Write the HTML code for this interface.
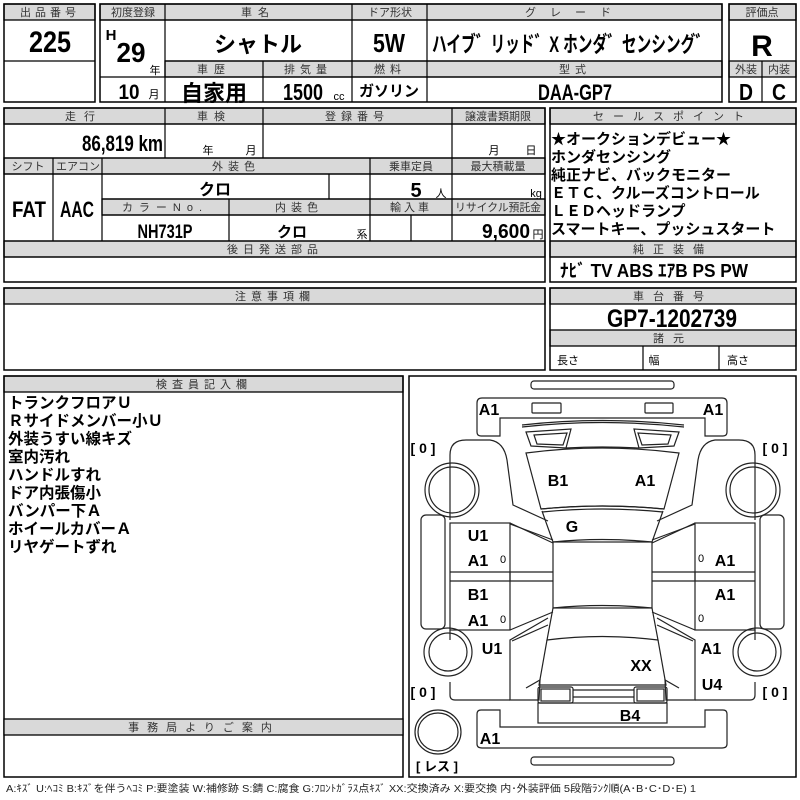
<!DOCTYPE html>
<html><head><meta charset="utf-8"><style>
html,body{margin:0;padding:0;background:#fff;}
svg{display:block;}
.h{fill:#d9d9d9;stroke:#000;stroke-width:1.3}
.b{fill:none;stroke:#000;stroke-width:1.5}
.l{stroke:#000;stroke-width:1.2}
.ht{font-family:"Liberation Sans","Noto Sans CJK JP",sans-serif;font-size:11px;fill:#333;text-anchor:middle}
.v{font-family:"Liberation Sans","Noto Sans CJK JP",sans-serif;font-weight:bold;fill:#000;text-anchor:middle}
.j{font-family:"Liberation Sans","Noto Sans CJK JP",sans-serif;font-weight:bold;fill:#000}
.s{font-family:"Liberation Sans","Noto Sans CJK JP",sans-serif;font-size:11px;fill:#000;text-anchor:middle}
.c{fill:none;stroke:#222;stroke-width:1.2}
.d{font-family:"Liberation Sans","Noto Sans CJK JP",sans-serif;font-weight:bold;fill:#000;text-anchor:middle}
</style></head><body>
<svg width="800" height="800" viewBox="0 0 800 800" xmlns="http://www.w3.org/2000/svg">
<rect class="h" x="4" y="4" width="91" height="16"/>
<text class="ht" x="50" y="16" style="letter-spacing:4px">出品番号</text>
<rect class="b" x="4" y="4" width="91" height="98"/>
<line class="l" x1="4" y1="61" x2="95" y2="61"/>
<text class="v" x="50" y="52" font-size="30" textLength="42" lengthAdjust="spacingAndGlyphs">225</text>

<rect class="h" x="100" y="4" width="622" height="16"/>
<rect class="h" x="165" y="61" width="557" height="16"/>
<rect class="b" x="100" y="4" width="622" height="98"/>
<line class="l" x1="100" y1="20" x2="722" y2="20"/>
<line class="l" x1="165" y1="4" x2="165" y2="102"/>
<line class="l" x1="352" y1="4" x2="352" y2="102"/>
<line class="l" x1="427" y1="4" x2="427" y2="102"/>
<line class="l" x1="263" y1="61" x2="263" y2="102"/>
<line class="l" x1="100" y1="77" x2="722" y2="77"/>
<line class="l" x1="165" y1="61" x2="722" y2="61"/>
<text class="ht" x="133" y="16">初度登録</text>
<text class="ht" x="258" y="16" style="letter-spacing:6px">車名</text>
<text class="ht" x="390" y="16">ドア形状</text>
<text class="ht" x="575" y="16" style="letter-spacing:14px">グレード</text>
<text class="ht" x="214" y="73" style="letter-spacing:6px">車歴</text>
<text class="ht" x="308" y="73" style="letter-spacing:5px">排気量</text>
<text class="ht" x="390" y="73" style="letter-spacing:5px">燃料</text>
<text class="ht" x="575" y="73" style="letter-spacing:5px">型式</text>
<text class="v" x="111" y="40" font-size="15">H</text>
<text class="v" x="131" y="62" font-size="28" textLength="29" lengthAdjust="spacingAndGlyphs">29</text>
<text class="s" x="155" y="74">年</text>
<text class="v" x="129" y="99" font-size="21" textLength="21" lengthAdjust="spacingAndGlyphs">10</text>
<text class="s" x="154" y="98">月</text>
<text class="j" x="258" y="52" font-size="22" text-anchor="middle">シャトル</text>
<text class="v" x="389" y="52" font-size="26" textLength="32" lengthAdjust="spacingAndGlyphs">5W</text>
<text class="j" x="571" y="52" font-size="22" text-anchor="middle" textLength="278" lengthAdjust="spacingAndGlyphs">ハイブ゛リッド゛X ホンダ゛センシング゛</text>
<text class="j" x="214" y="101" font-size="22" text-anchor="middle">自家用</text>
<text class="v" x="303" y="100" font-size="23" textLength="40" lengthAdjust="spacingAndGlyphs">1500</text>
<text class="s" x="339" y="100">cc</text>
<text class="j" x="389" y="96" font-size="15" text-anchor="middle">ガソリン</text>
<text class="v" x="575" y="100" font-size="22" textLength="74" lengthAdjust="spacingAndGlyphs">DAA-GP7</text>

<rect class="h" x="729" y="4" width="67" height="16"/>
<rect class="h" x="729" y="61" width="67" height="16"/>
<rect class="b" x="729" y="4" width="67" height="98"/>
<line class="l" x1="729" y1="20" x2="796" y2="20"/>
<line class="l" x1="762" y1="61" x2="762" y2="102"/>
<text class="ht" x="762" y="16">評価点</text>
<text class="ht" x="746" y="73">外装</text>
<text class="ht" x="779" y="73">内装</text>
<text class="v" x="762" y="56" font-size="30">R</text>
<text class="v" x="746" y="100" font-size="23" textLength="14" lengthAdjust="spacingAndGlyphs">D</text>
<text class="v" x="779" y="100" font-size="23" textLength="14" lengthAdjust="spacingAndGlyphs">C</text>

<rect class="h" x="4" y="108" width="541" height="16"/>
<rect class="h" x="4" y="158" width="541" height="16"/>
<rect class="h" x="102" y="199" width="443" height="16"/>
<rect class="h" x="4" y="241" width="541" height="16"/>
<rect class="b" x="4" y="108" width="541" height="174"/>
<line class="l" x1="4" y1="124" x2="545" y2="124"/>
<line class="l" x1="165" y1="108" x2="165" y2="158"/>
<line class="l" x1="263" y1="108" x2="263" y2="158"/>
<line class="l" x1="452" y1="108" x2="452" y2="158"/>
<line class="l" x1="4" y1="158" x2="545" y2="158"/>
<line class="l" x1="4" y1="174" x2="545" y2="174"/>
<line class="l" x1="53" y1="158" x2="53" y2="241"/>
<line class="l" x1="102" y1="158" x2="102" y2="241"/>
<line class="l" x1="370" y1="158" x2="370" y2="241"/>
<line class="l" x1="452" y1="158" x2="452" y2="241"/>
<line class="l" x1="329" y1="174" x2="329" y2="199"/>
<line class="l" x1="102" y1="199" x2="545" y2="199"/>
<line class="l" x1="102" y1="215" x2="545" y2="215"/>
<line class="l" x1="229" y1="199" x2="229" y2="241"/>
<line class="l" x1="411" y1="215" x2="411" y2="241"/>
<line class="l" x1="4" y1="241" x2="545" y2="241"/>
<line class="l" x1="4" y1="257" x2="545" y2="257"/>
<text class="ht" x="84" y="120" style="letter-spacing:8px">走行</text>
<text class="ht" x="214" y="120" style="letter-spacing:6px">車検</text>
<text class="ht" x="357" y="120" style="letter-spacing:5px">登録番号</text>
<text class="ht" x="498" y="120">譲渡書類期限</text>
<text class="ht" x="28" y="170">シフト</text>
<text class="ht" x="78" y="170">エアコン</text>
<text class="ht" x="236" y="170" style="letter-spacing:5px">外装色</text>
<text class="ht" x="411" y="170">乗車定員</text>
<text class="ht" x="498" y="170">最大積載量</text>
<text class="ht" x="165" y="211" style="letter-spacing:6px">カラーNo.</text>
<text class="ht" x="299" y="211" style="letter-spacing:5px">内装色</text>
<text class="ht" x="411" y="211" style="letter-spacing:3px">輸入車</text>
<text class="ht" x="498" y="211" textLength="86" lengthAdjust="spacingAndGlyphs">リサイクル預託金</text>
<text class="ht" x="275" y="253" style="letter-spacing:5px">後日発送部品</text>
<text class="v" x="82" y="151" font-size="22" textLength="81" lengthAdjust="spacingAndGlyphs" style="text-anchor:start">86,819 km</text>
<text class="s" x="208" y="154">年</text>
<text class="s" x="251" y="154">月</text>
<text class="s" x="494" y="154">月</text>
<text class="s" x="531" y="154">日</text>
<text class="v" x="29" y="217" font-size="22" textLength="34" lengthAdjust="spacingAndGlyphs">FAT</text>
<text class="v" x="77" y="217" font-size="22" textLength="34" lengthAdjust="spacingAndGlyphs">AAC</text>
<text class="j" x="215" y="195" font-size="16" text-anchor="middle">クロ</text>
<text class="v" x="416" y="197" font-size="20">5</text>
<text class="s" x="441" y="197">人</text>
<text class="s" x="536" y="197">kg</text>
<text class="v" x="165" y="238" font-size="19" textLength="55" lengthAdjust="spacingAndGlyphs">NH731P</text>
<text class="j" x="292" y="237" font-size="15" text-anchor="middle">クロ</text>
<text class="s" x="362" y="238">系</text>
<text class="v" x="506" y="238" font-size="20" textLength="48" lengthAdjust="spacingAndGlyphs">9,600</text>
<text class="s" x="538" y="238">円</text>

<rect class="h" x="550" y="108" width="246" height="16"/>
<rect class="h" x="550" y="241" width="246" height="16"/>
<rect class="b" x="550" y="108" width="246" height="174"/>
<line class="l" x1="550" y1="124" x2="796" y2="124"/>
<line class="l" x1="550" y1="241" x2="796" y2="241"/>
<line class="l" x1="550" y1="257" x2="796" y2="257"/>
<text class="ht" x="673" y="120" style="letter-spacing:9px">セールスポイント</text>
<text class="ht" x="673" y="253" style="letter-spacing:9px">純正装備</text>
<g class="j" font-size="15">
<text x="551" y="144">★オークションデビュー★</text>
<text x="551" y="162">ホンダセンシング</text>
<text x="551" y="180">純正ナビ、バックモニター</text>
<text x="551" y="198">ＥＴＣ、クルーズコントロール</text>
<text x="551" y="216">ＬＥＤヘッドランプ</text>
<text x="551" y="234">スマートキー、プッシュスタート</text>
</g>
<text class="j" x="560" y="277" font-size="18" textLength="188" lengthAdjust="spacingAndGlyphs">ﾅﾋﾞ  TV  ABS ｴｱB PS PW</text>

<rect class="h" x="4" y="288" width="541" height="16"/>
<rect class="b" x="4" y="288" width="541" height="82"/>
<text class="ht" x="275" y="300" style="letter-spacing:5px">注意事項欄</text>
<rect class="h" x="550" y="288" width="246" height="16"/>
<rect class="h" x="550" y="330" width="246" height="16"/>
<rect class="b" x="550" y="288" width="246" height="82"/>
<line class="l" x1="643" y1="346" x2="643" y2="370"/>
<line class="l" x1="719" y1="346" x2="719" y2="370"/>
<text class="ht" x="673" y="300" style="letter-spacing:9px">車台番号</text>
<text class="ht" x="673" y="342" style="letter-spacing:9px">諸元</text>
<text class="v" x="672" y="327" font-size="25" textLength="130" lengthAdjust="spacingAndGlyphs">GP7-1202739</text>
<text class="s" x="568" y="364">長さ</text>
<text class="s" x="654" y="364">幅</text>
<text class="s" x="738" y="364">高さ</text>

<rect class="h" x="4" y="376" width="399" height="16"/>
<rect class="b" x="4" y="376" width="399" height="401"/>
<text class="ht" x="204" y="388" style="letter-spacing:5px">検査員記入欄</text>
<g class="j" font-size="15.5">
<text x="8" y="408">トランクフロアＵ</text>
<text x="8" y="426">Ｒサイドメンバー小Ｕ</text>
<text x="8" y="444">外装うすい線キズ</text>
<text x="8" y="462">室内汚れ</text>
<text x="8" y="480">ハンドルすれ</text>
<text x="8" y="498">ドア内張傷小</text>
<text x="8" y="516">バンパー下Ａ</text>
<text x="8" y="534">ホイールカバーＡ</text>
<text x="8" y="552">リヤゲートずれ</text>
</g>
<rect class="h" x="4" y="719" width="399" height="16"/>
<text class="ht" x="204" y="731" style="letter-spacing:8px">事務局よりご案内</text>

<rect class="b" x="409" y="376" width="387" height="401"/>
<g>
<rect class="c" x="531" y="381" width="143" height="8" rx="3"/>
<rect class="c" x="531" y="757" width="143" height="8" rx="3"/>
<path class="c" d="M477,432 V403 Q477,398 482,398 H722 Q727,398 727,403 V432 Q727,436 723,436 H705 V418 H500 V436 H481 Q477,436 477,432Z"/>
<path class="c" d="M477,714 V744 Q477,748 482,748 H722 Q727,748 727,744 V714 Q727,710 723,710 H705 V727 H500 V710 H481 Q477,710 477,714Z"/>
<rect class="c" x="532" y="403" width="29" height="10" rx="1"/>
<rect class="c" x="645" y="403" width="28" height="10" rx="1"/>
<path class="c" d="M522,427 Q602,418 684,427 M522,425 Q602,416 684,425"/>
<path class="c" d="M526,432 L571,429 L566,448 L531,446 Z M534,435 L567,433 L563,445 L537,444 Z"/>
<path class="c" d="M679,432 L634,429 L639,448 L674,446 Z M671,435 L638,433 L642,445 L668,444 Z"/>
<path class="c" d="M566,448 Q602,446 639,448"/>
<path class="c" d="M526,453 Q602,443 679,453 L664,509 Q602,503 541,509 Z"/>
<path class="c" d="M541,509 Q602,503 664,509 M542,512 Q602,506 663,512"/>
<path class="c" d="M542,511 L553,542 Q602,537 652,542 L663,511"/>
<rect class="c" x="553" y="542" width="99" height="66"/>
<path class="c" d="M553,608 Q602,603 652,608 L658,640 Q602,633 547,640 Z"/>
<path class="c" d="M547,640 L539,685 H666 L658,640"/>
<rect class="c" x="538" y="687" width="35" height="16" rx="2"/>
<rect class="c" x="541" y="689" width="29" height="12"/>
<rect class="c" x="634" y="687" width="33" height="16" rx="2"/>
<rect class="c" x="637" y="689" width="27" height="12"/>
<path class="c" d="M573,690 H634 M573,697 H634"/>
<rect class="c" x="538" y="703" width="129" height="20"/>
<g id="side">
<path class="c" d="M450,520 V455 Q450,440 466,440 H490 Q504,442 507,460 L513,505 L548,521"/>
<path class="c" d="M553,540 L510,524"/>
<rect class="c" x="421" y="515" width="24" height="114" rx="5"/>
<rect class="c" x="450" y="523" width="60" height="107"/>
<line class="c" x1="450" y1="572" x2="553" y2="572"/>
<line class="c" x1="450" y1="581" x2="553" y2="581"/>
<line class="c" x1="510" y1="572" x2="510" y2="581"/>
<path class="c" d="M510,630 L553,612 M510,523 L553,543"/>
<path class="c" d="M548,618 L510,640 V700 H539 L540,680 L526,688 M548,625 L512,641"/>
<path class="c" d="M450,630 V640 M450,682 V695 Q450,700 455,700 H510"/>
<circle class="c" cx="452" cy="490" r="27" fill="#fff"/>
<circle class="c" cx="452" cy="490" r="23"/>
<circle class="c" cx="448" cy="652" r="24" fill="#fff"/>
<circle class="c" cx="448" cy="652" r="19"/>
</g>
<use href="#side" transform="translate(1205,0) scale(-1,1)"/>
<ellipse class="c" cx="438" cy="732" rx="23" ry="22"/>
<ellipse class="c" cx="438" cy="732" rx="20" ry="19"/>
</g>
<g class="d" style="font-size:14px">
<text x="423" y="453">[ 0 ]</text>
<text x="775" y="453">[ 0 ]</text>
<text x="423" y="697">[ 0 ]</text>
<text x="775" y="697">[ 0 ]</text>
<text x="437" y="771" style="font-size:13px">[ レス ]</text>
</g>
<g class="d" style="font-size:16px">
<text x="489" y="415">A1</text>
<text x="713" y="415">A1</text>
<text x="558" y="486">B1</text>
<text x="645" y="486">A1</text>
<text x="572" y="532">G</text>
<text x="478" y="541">U1</text>
<text x="478" y="566">A1</text>
<text x="478" y="600">B1</text>
<text x="478" y="626">A1</text>
<text x="492" y="654">U1</text>
<text x="725" y="566">A1</text>
<text x="725" y="600">A1</text>
<text x="711" y="654">A1</text>
<text x="641" y="671">XX</text>
<text x="712" y="690">U4</text>
<text x="630" y="721">B4</text>
<text x="490" y="744">A1</text>
</g>
<g class="s" font-size="11">
<text x="503" y="563">0</text><text x="503" y="623">0</text>
<text x="701" y="562">0</text><text x="701" y="622">0</text>
</g>
<text x="6" y="792" font-family="Liberation Sans,Noto Sans CJK JP,sans-serif" font-size="10" fill="#222" textLength="690" lengthAdjust="spacingAndGlyphs">A:ｷｽﾞ U:ﾍｺﾐ B:ｷｽﾞを伴うﾍｺﾐ P:要塗装 W:補修跡 S:錆 C:腐食 G:ﾌﾛﾝﾄｶﾞﾗｽ点ｷｽﾞ XX:交換済み X:要交換  内･外装評価  5段階ﾗﾝｸ順(A･B･C･D･E) 1</text>
</svg>
</body></html>
